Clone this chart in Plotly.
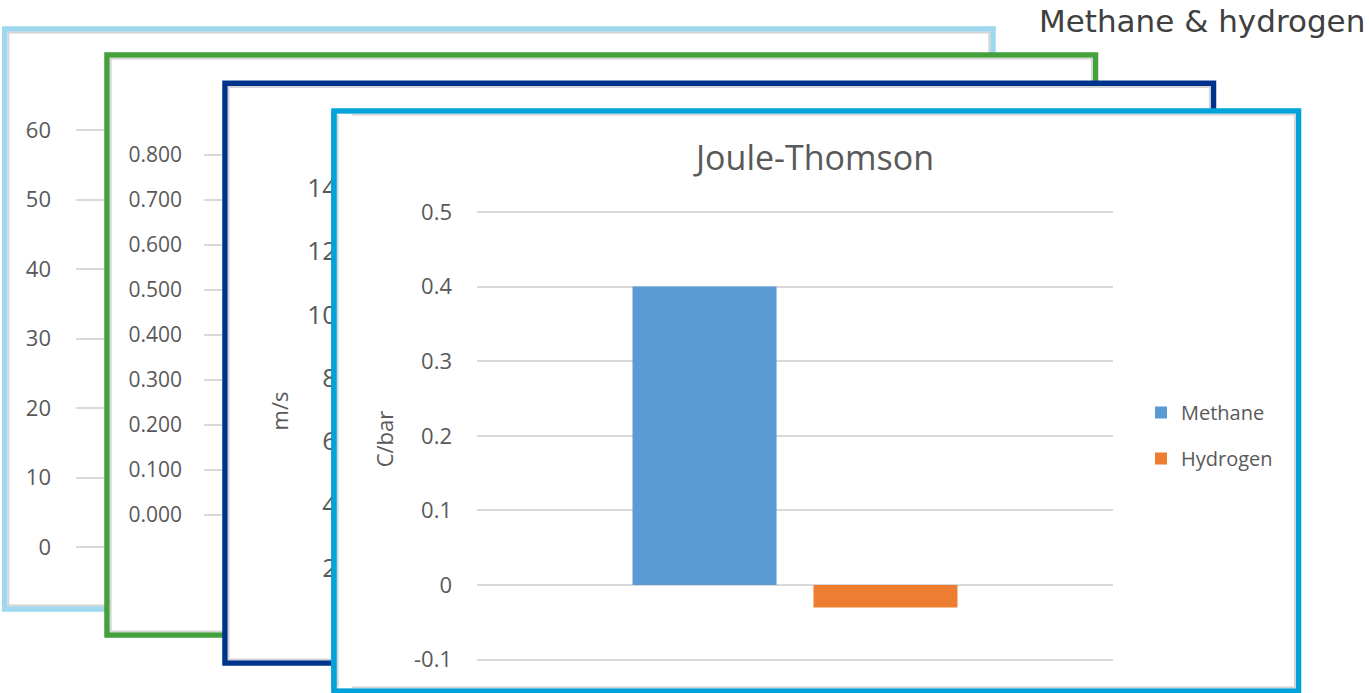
import plotly.graph_objects as go

# ---------------- data ----------------
categories = ["Joule-Thomson"]
series_names = ["Methane", "Hydrogen"]
methane_values = [0.40]
hydrogen_values = [-0.03]
series_colors = ["#5B9BD5", "#ED7D31"]

jt_ticks = [-0.1, 0, 0.1, 0.2, 0.3, 0.4, 0.5]
jt_ticklabels = ["-0.1", "0", "0.1", "0.2", "0.3", "0.4", "0.5"]
back1_ticks = [0, 10, 20, 30, 40, 50, 60]
back2_ticks = [0.0, 0.1, 0.2, 0.3, 0.4, 0.5, 0.6, 0.7, 0.8]
back3_ticks = [2, 4, 6, 8, 10, 12, 14]

chart_title = "Joule-Thomson"
slide_title = "Methane & hydrogen"
jt_unit = "C/bar"
back3_unit = "m/s"

# ---------------- layout helpers ----------------
W, H = 1369, 693
def fx(px):
    return px / W
def fy(py):
    return 1 - py / H
def vrange(top_px, bot_px, v1, p1, v2, p2):
    def val(p):
        return v1 + (p - p1) / (p2 - p1) * (v2 - v1)
    return [val(bot_px), val(top_px)]

TXT = "#595959"
GRID = "#D9D9D9"
FONT = "Open Sans"

fig = go.Figure()

# main bars
fig.add_trace(go.Bar(x=categories, y=methane_values, name=series_names[0],
                     marker=dict(color=series_colors[0], line=dict(width=0)),
                     xaxis="x4", yaxis="y4", legendgroup="a"))
fig.add_trace(go.Bar(x=categories, y=hydrogen_values, name=series_names[1],
                     marker=dict(color=series_colors[1], line=dict(width=0)),
                     xaxis="x4", yaxis="y4", legendgroup="b"))
# placeholder traces so the background frames' axes exist
for i in (1, 2, 3):
    fig.add_trace(go.Scatter(x=[None], y=[None], showlegend=False, hoverinfo="skip",
                             xaxis="x" if i == 1 else f"x{i}",
                             yaxis="y" if i == 1 else f"y{i}"))

# frames (outer coloured border + thin grey inner line)
frames = [
    ("#9FD7EF", 4.7, 29, 993, 609),
    ("#43A03A", 107, 55, 1095.5, 635),
    ("#00338D", 225, 83.3, 1213.5, 663),
    ("#00A3DA", 334, 111, 1298.5, 691),
]
shapes = []
for col, x0, y0, x1, y1 in frames:
    shapes.append(dict(type="rect", xref="paper", yref="paper", layer="below",
                       x0=fx(x0), x1=fx(x1), y0=fy(y1), y1=fy(y0),
                       fillcolor="white", line=dict(color=col, width=5.5)))
    shapes.append(dict(type="rect", xref="paper", yref="paper", layer="below",
                       x0=fx(x0 + 3.7), x1=fx(x1 - 3.7), y0=fy(y1 - 3.7), y1=fy(y0 + 3.7),
                       fillcolor="rgba(0,0,0,0)", line=dict(color="#D4D4D4", width=1.8)))
# front frame's left edge drawn over the clipped tick labels of the frame behind
shapes.append(dict(type="rect", xref="paper", yref="paper", layer="above",
                   x0=fx(337), x1=fx(352), y0=fy(688), y1=fy(114),
                   fillcolor="white", line=dict(width=0)))
shapes.append(dict(type="line", xref="paper", yref="paper", layer="above",
                   x0=fx(334), x1=fx(334), y0=fy(691), y1=fy(111),
                   line=dict(color="#00A3DA", width=5.5)))
shapes.append(dict(type="line", xref="paper", yref="paper", layer="above",
                   x0=fx(337.7), x1=fx(337.7), y0=fy(687.3), y1=fy(114.7),
                   line=dict(color="#D4D4D4", width=1.8)))

hidden_x = dict(visible=False, range=[0, 1], fixedrange=True, automargin=False)

fig.update_layout(
    width=W, height=H,
    margin=dict(l=0, r=0, t=0, b=0, pad=0, autoexpand=False),
    paper_bgcolor="white", plot_bgcolor="rgba(0,0,0,0)",
    showlegend=True,
    barmode="group", bargap=0.431, bargroupgap=0.204,
    shapes=shapes,
    font=dict(family=FONT, color=TXT),
    # frame 1 (light blue)
    xaxis=dict(hidden_x, domain=[fx(76), fx(104)], anchor="y"),
    yaxis=dict(domain=[fy(565), fy(110)], anchor="x", automargin=False,
               range=vrange(110, 565, 0, 547, 60, 130),
               tickvals=back1_ticks, showgrid=True, gridcolor=GRID, gridwidth=1.5,
               zeroline=False, showline=False, ticks="",
               tickfont=dict(size=22, color=TXT, family=FONT), ticklabelstandoff=24),
    # frame 2 (green)
    xaxis2=dict(hidden_x, domain=[fx(204), fx(222)], anchor="y2"),
    yaxis2=dict(domain=[fy(535), fy(135)], anchor="x2", automargin=False,
                range=vrange(135, 535, 0, 515, 0.8, 155),
                tickvals=back2_ticks, tickformat=".3f", showgrid=True, gridcolor=GRID,
                gridwidth=1.5, zeroline=False, showline=False, ticks="",
                tickfont=dict(size=21, color=TXT, family=FONT), ticklabelstandoff=21),
    # frame 3 (dark blue)
    xaxis3=dict(hidden_x, domain=[fx(338), fx(345)], anchor="y3"),
    yaxis3=dict(domain=[fy(652), fy(170)], anchor="x3", automargin=False,
                range=vrange(170, 652, 2, 568, 14, 188),
                tickvals=back3_ticks, showgrid=False, zeroline=False, showline=False,
                ticks="", tickfont=dict(size=26, color=TXT, family=FONT),
                ticklabelstandoff=0,
                title=dict(text=back3_unit, font=dict(size=22, color=TXT, family=FONT),
                           standoff=12)),
    # frame 4 (front chart)
    xaxis4=dict(domain=[fx(477), fx(1113)], anchor="y4", type="category",
                range=[-0.5, 0.5], showticklabels=False, showgrid=False,
                zeroline=False, showline=False, ticks="", fixedrange=True,
                automargin=False),
    yaxis4=dict(domain=[fy(670), fy(208)], anchor="x4", automargin=False,
                range=vrange(208, 670, 0, 585, 0.5, 212),
                tickvals=jt_ticks, ticktext=jt_ticklabels, showgrid=True,
                gridcolor=GRID, gridwidth=1.5, zeroline=False, showline=False, ticks="",
                tickfont=dict(size=22, color=TXT, family=FONT), ticklabelstandoff=24,
                title=dict(text=jt_unit, font=dict(size=22, color=TXT, family=FONT),
                           standoff=14)),
    title=dict(text=chart_title, x=fx(815), y=fy(158), xanchor="center",
               yanchor="middle", xref="paper", yref="paper", automargin=False,
               font=dict(size=34, color=TXT, family=FONT)),
    legend=dict(x=fx(1141), y=fy(393), xanchor="left", yanchor="top",
                font=dict(size=20, color=TXT, family=FONT), tracegroupgap=17,
                itemwidth=30, bgcolor="rgba(0,0,0,0)", borderwidth=0,
                itemclick=False),
    annotations=[dict(text=slide_title, x=fx(1037), y=fy(21), xref="paper",
                      yref="paper", xanchor="left", yanchor="middle", showarrow=False,
                      font=dict(size=31, color="#404040", family="DejaVu Sans"))],
)

fig.write_html("out.html", config={"displayModeBar": False},
               post_script="document.body.style.margin='0';")
